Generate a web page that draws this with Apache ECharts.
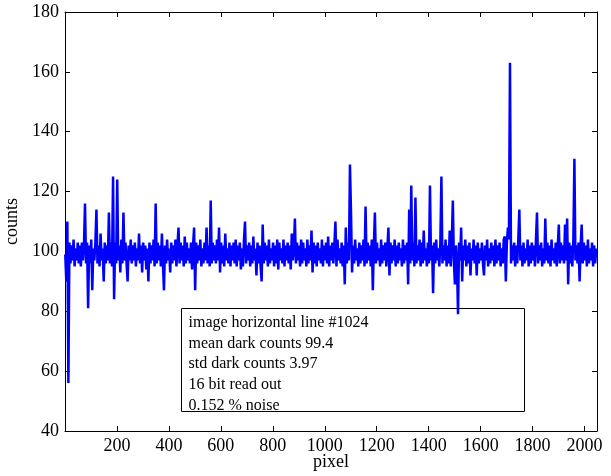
<!DOCTYPE html>
<html>
<head>
<meta charset="utf-8">
<script src="https://cdn.jsdelivr.net/npm/echarts@6/dist/echarts.min.js"></script>
<style>
  html, body { margin: 0; padding: 0; background: #fff; }
  #chart { width: 611px; height: 476px; }
</style>
</head>
<body>
<div id="chart"></div>
<script>
// dark counts along one image row, read every 4th pixel off the plot
var pixelStep = 4;
var counts = [
  99, 90, 110, 56, 103, 96, 102, 97, 104, 95, 101, 97, 103, 96, 102, 95,
  103, 97, 102, 116, 96, 103, 81, 102, 96, 104, 87, 101, 97, 103, 114, 96,
  102, 95, 106, 97, 101, 90, 103, 96, 102, 97, 113, 96, 103, 95, 125, 84,
  103, 96, 124, 97, 102, 93, 104, 96, 113, 97, 103, 96, 90, 102, 97, 104,
  96, 102, 97, 103, 95, 101, 97, 106, 96, 102, 93, 103, 97, 102, 94, 101,
  90, 103, 96, 102, 97, 104, 95, 116, 96, 103, 97, 102, 95, 106, 96, 87,
  102, 96, 104, 97, 101, 93, 103, 96, 102, 97, 104, 95, 102, 108, 96, 103,
  97, 102, 95, 105, 96, 103, 97, 101, 96, 103, 94, 102, 108, 87, 103, 96,
  102, 97, 104, 95, 101, 96, 103, 97, 108, 96, 102, 95, 117, 96, 103, 97,
  102, 96, 104, 97, 108, 93, 103, 96, 102, 95, 106, 97, 101, 96, 103, 95,
  102, 97, 103, 96, 104, 95, 102, 97, 103, 94, 101, 95, 104, 110, 96, 102,
  97, 103, 95, 102, 96, 105, 97, 101, 92, 103, 96, 102, 95, 90, 109, 96,
  103, 97, 102, 95, 104, 96, 101, 97, 103, 95, 102, 96, 104, 94, 103, 97,
  101, 96, 104, 95, 102, 97, 103, 96, 102, 94, 106, 97, 101, 111, 96, 103,
  97, 102, 95, 104, 96, 103, 97, 101, 95, 104, 96, 102, 97, 107, 93, 103,
  96, 102, 95, 103, 97, 101, 96, 104, 95, 102, 97, 103, 96, 105, 95, 102,
  97, 103, 96, 102, 110, 95, 104, 97, 101, 96, 103, 95, 102, 89, 108, 96,
  103, 97, 129, 113, 93, 102, 96, 104, 97, 101, 95, 103, 96, 102, 97, 104,
  95, 115, 96, 103, 97, 102, 95, 104, 87, 102, 113, 96, 103, 97, 101, 95,
  104, 96, 102, 97, 103, 95, 101, 108, 92, 103, 96, 102, 97, 104, 95, 102,
  96, 103, 97, 101, 95, 104, 96, 102, 97, 103, 89, 114, 96, 122, 97, 103,
  95, 118, 96, 102, 97, 104, 95, 103, 96, 107, 97, 101, 95, 103, 96, 122,
  97, 102, 86, 103, 96, 104, 97, 101, 95, 103, 125, 96, 102, 97, 104, 95,
  102, 96, 107, 95, 103, 117, 97, 89, 102, 96, 79, 103, 97, 108, 90, 102,
  97, 104, 95, 102, 96, 103, 92, 101, 97, 104, 96, 102, 92, 103, 96, 101,
  97, 103, 96, 92, 102, 97, 104, 95, 101, 96, 103, 97, 102, 95, 104, 96,
  102, 97, 103, 95, 101, 96, 104, 105, 90, 103, 108, 104, 163, 96, 102, 97,
  103, 95, 102, 96, 104, 114, 97, 102, 95, 103, 96, 101, 97, 104, 95, 102,
  96, 103, 97, 102, 95, 104, 113, 96, 102, 97, 103, 95, 101, 96, 111, 97,
  103, 96, 102, 95, 104, 97, 101, 96, 103, 95, 102, 109, 96, 103, 97, 102,
  96, 109, 97, 111, 89, 103, 96, 102, 95, 104, 131, 97, 102, 96, 103, 90,
  102, 109, 96, 103, 97, 102, 95, 104, 96, 101, 97, 103, 95, 102, 96, 101
];
var infoLines = [
  'image horizontal line #1024',
  'mean dark counts 99.4',
  'std dark counts 3.97',
  '16 bit read out',
  '0.152 % noise'
];

var font = "'Liberation Serif', 'Times New Roman', serif";
var lineData = counts.map(function (v, i) { return [1 + i * pixelStep, v]; });

var chart = echarts.init(document.getElementById('chart'));
var axisCommon = {
  axisLine: {show: true, onZero: false, lineStyle: {color: '#000', width: 1}},
  axisTick: {show: true, inside: true, length: 5, lineStyle: {color: '#000'}},
  splitLine: {show: false}
};

chart.setOption({
  animation: false,
  backgroundColor: '#fff',
  grid: {left: 65, right: 14, top: 12, bottom: 45, outerBoundsMode: 'none'},
  xAxis: [
    Object.assign({
      type: 'value', position: 'bottom', min: 0, max: 2048, interval: 200,
      name: 'pixel', nameLocation: 'middle', nameGap: 22, nameMoveOverlap: false,
      nameTextStyle: {fontFamily: font, fontSize: 18, color: '#000'},
      axisLabel: {
        fontFamily: font, fontSize: 18, color: '#000', margin: 6,
        showMinLabel: false, showMaxLabel: false,
        formatter: function (v) { return (v === 0 || v % 200) ? '' : v; }
      }
    }, axisCommon),
    Object.assign({
      type: 'value', position: 'top', min: 0, max: 2048, interval: 200,
      axisLabel: {show: false}
    }, axisCommon)
  ],
  yAxis: [
    Object.assign({
      type: 'value', position: 'left', min: 40, max: 180, interval: 20,
      name: 'counts', nameLocation: 'middle', nameGap: 36,
      nameTextStyle: {fontFamily: font, fontSize: 18, color: '#000'},
      axisLabel: {fontFamily: font, fontSize: 18, color: '#000', margin: 6}
    }, axisCommon),
    Object.assign({
      type: 'value', position: 'right', min: 40, max: 180, interval: 20,
      axisLabel: {show: false}
    }, axisCommon)
  ],
  graphic: [{
    type: 'group', left: 181, top: 308, z: 1,
    children: [
      {type: 'rect', shape: {x: 0, y: 0, width: 343, height: 103},
        style: {fill: '#fff', stroke: '#000', lineWidth: 1}},
      {type: 'text', x: 7, y: 4,
        style: {text: infoLines.join('\n'), font: '16px ' + font, fill: '#000', lineHeight: 20.7}}
    ]
  }],
  series: [{
    type: 'line',
    data: lineData,
    showSymbol: false,
    z: 3,
    lineStyle: {color: '#0000ff', width: 2.5},
    itemStyle: {color: '#0000ff'}
  }]
});
</script>
</body>
</html>
